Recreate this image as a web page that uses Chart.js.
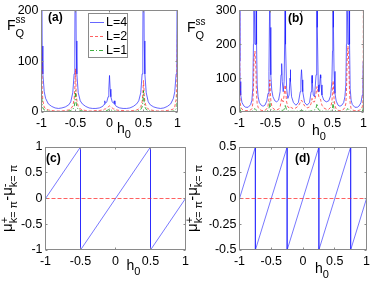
<!DOCTYPE html>
<html>
<head>
<meta charset="utf-8">
<script src="https://cdn.jsdelivr.net/npm/chart.js@4.4.1/dist/chart.umd.min.js"></script>
<style>
  body { margin: 0; background: #fff; }
  #wrap { position: relative; width: 374px; height: 282px; overflow: hidden; }
  #wrap canvas { position: absolute; left: 0; top: 0; }
</style>
</head>
<body>
<div id="wrap">
  <canvas id="pa" width="374" height="282"></canvas>
  <canvas id="pb" width="374" height="282"></canvas>
  <canvas id="pc" width="374" height="282"></canvas>
  <canvas id="pd" width="374" height="282"></canvas>
</div>
<script>
// panel (a): F_Q^ss against h0
const aH = [-1, -0.99, -0.98, -0.96, -0.94, -0.9, -0.85, -0.8, -0.75, -0.7,
  -0.65, -0.6, -0.57, -0.54, -0.52, -0.51, -0.5, -0.49, -0.48, -0.46,
  -0.43, -0.4, -0.35, -0.3, -0.25, -0.2, -0.15, -0.1, -0.08, -0.07,
  -0.06, -0.04, -0.02, -0.01, 0,
  0.01, 0.02, 0.04, 0.06, 0.07, 0.08, 0.1, 0.15, 0.2, 0.25,
  0.3, 0.35, 0.4, 0.43, 0.46, 0.48, 0.49, 0.5, 0.51, 0.52,
  0.54, 0.57, 0.6, 0.65, 0.7, 0.75, 0.8, 0.85, 0.9, 0.94,
  0.96, 0.98, 0.99, 1];
const aL4 = [400, 130, 75, 40, 27, 16, 11, 8, 7, 8,
  10, 14, 20, 38, 75, 140, 400, 140, 75, 38,
  22, 16, 11, 8, 7, 7, 8, 11, 15, 22,
  17, 20, 30, 45, 72,
  45, 30, 20, 17, 22, 15, 11, 8, 7, 7,
  8, 11, 16, 22, 38, 75, 140, 400, 140, 75,
  38, 20, 14, 10, 8, 7, 8, 11, 16, 27,
  40, 75, 130, 400];
const aL2 = [140, 45, 22, 10, 6, 4, 3, 2, 2, 2,
  3, 4, 6, 12, 25, 45, 85, 40, 22, 11,
  6, 4, 3, 2, 2, 3, 3, 4, 5, 6,
  6, 8, 10, 11, 12,
  11, 10, 8, 6, 6, 5, 4, 3, 3, 2,
  2, 3, 4, 6, 10, 20, 35, 62, 35, 20,
  10, 6, 4, 3, 2, 2, 2, 3, 4, 6,
  10, 25, 50, 160];
const aL1 = [45, 15, 8, 4, 3, 2, 1, 1, 1, 1,
  1, 2, 3, 5, 10, 18, 42, 18, 10, 5,
  3, 2, 1, 1, 1, 1, 1, 1, 2, 2,
  2, 3, 4, 5, 6,
  5, 4, 3, 2, 2, 2, 1, 1, 1, 1,
  1, 1, 2, 3, 5, 10, 18, 42, 18, 10,
  5, 3, 2, 1, 1, 1, 1, 1, 1, 2,
  3, 6, 12, 45];

// panel (b)
const bH = [-1, -0.995, -0.99, -0.98, -0.96, -0.93, -0.9, -0.86, -0.82, -0.8,
  -0.785, -0.775, -0.77, -0.765, -0.75, -0.735, -0.73, -0.725, -0.715, -0.7,
  -0.68, -0.65, -0.62, -0.59, -0.56, -0.54, -0.525, -0.515, -0.51, -0.505,
  -0.495, -0.48, -0.46, -0.43, -0.4, -0.37, -0.345, -0.33, -0.32, -0.31,
  -0.295, -0.28, -0.265, -0.26, -0.255, -0.24, -0.22, -0.2, -0.185, -0.18,
  -0.175, -0.16, -0.13, -0.09, -0.05, -0.02, -0.01, 0, 0.01, 0.02,
  0.05, 0.09, 0.13, 0.155, 0.165, 0.17, 0.175, 0.19, 0.21, 0.235,
  0.245, 0.25, 0.255, 0.27, 0.28, 0.295, 0.305, 0.31, 0.315, 0.33,
  0.36, 0.4, 0.44, 0.47, 0.49, 0.5, 0.505, 0.51, 0.515, 0.525,
  0.54, 0.56, 0.59, 0.62, 0.65, 0.68, 0.7, 0.715, 0.725, 0.73,
  0.735, 0.75, 0.765, 0.77, 0.775, 0.785, 0.8, 0.82, 0.86, 0.9,
  0.93, 0.96, 0.98, 0.99, 0.995, 1];
const bL4 = [500, 150, 90, 50, 28, 18, 14, 14, 22, 35,
  70, 200, 500, 350, 200, 350, 500, 200, 80, 45,
  28, 20, 17, 20, 32, 55, 120, 300, 500, 250,
  110, 65, 45, 33, 30, 35, 60, 110, 143, 90,
  60, 90, 300, 500, 200, 70, 40, 50, 100, 125,
  90, 45, 28, 20, 28, 60, 95, 125, 95, 60,
  28, 20, 28, 60, 95, 108, 85, 50, 45, 110,
  350, 500, 250, 80, 60, 85, 110, 100, 80, 50,
  35, 30, 33, 48, 90, 180, 350, 500, 250, 120,
  55, 32, 20, 17, 20, 28, 45, 80, 200, 500,
  350, 200, 350, 500, 200, 70, 35, 22, 14, 14,
  18, 28, 50, 90, 150, 500];
const bL2 = [500, 60, 30, 15, 8, 5, 4, 4, 6, 10,
  25, 70, 120, 160, 180, 120, 80, 50, 25, 14,
  8, 5, 4, 5, 9, 18, 40, 80, 95, 70,
  35, 18, 11, 7, 6, 8, 15, 30, 40, 35,
  30, 50, 80, 75, 60, 30, 15, 12, 15, 16,
  15, 12, 10, 12, 18, 28, 32, 35, 32, 28,
  18, 12, 15, 25, 35, 40, 38, 30, 30, 55,
  70, 75, 70, 55, 45, 40, 38, 35, 30, 20,
  12, 8, 8, 14, 30, 55, 80, 92, 75, 40,
  18, 9, 5, 4, 5, 8, 14, 25, 60, 100,
  150, 195, 130, 90, 60, 25, 10, 6, 4, 4,
  5, 8, 15, 30, 60, 500];
const bL1 = [40, 12, 6, 3, 2, 1, 1, 1, 1, 2,
  3, 5, 7, 8, 10, 7, 5, 4, 3, 2,
  1, 1, 1, 2, 3, 5, 10, 20, 32, 18,
  8, 5, 3, 2, 2, 2, 3, 4, 5, 5,
  5, 8, 18, 22, 15, 6, 3, 3, 3, 3,
  3, 2, 2, 2, 3, 4, 5, 6, 5, 4,
  3, 2, 2, 3, 4, 5, 5, 5, 6, 12,
  20, 25, 18, 8, 6, 5, 5, 5, 4, 3,
  2, 2, 2, 3, 7, 12, 22, 30, 18, 9,
  5, 3, 2, 1, 1, 1, 2, 3, 5, 7,
  8, 10, 7, 5, 4, 3, 2, 1, 1, 1,
  1, 2, 3, 6, 12, 40];

// panels (c) and (d): mu+ - mu- at k = pi
const cH = [-1, -0.5, -0.5, 0.5, 0.5, 1];
const cMu = [0, 1, -1, 1, -1, 0];
const dH = [-1, -0.75, -0.75, -0.25, -0.25, 0.25, 0.25, 0.75, 0.75, 1];
const dMu = [0, 0.5, -0.5, 0.5, -0.5, 0.5, -0.5, 0.5, -0.5, 0];
const zeroH = [-1, 1];
const zeroMu = [0, 0];

// ticks
const hTicks = [-1, -0.5, 0, 0.5, 1];
const hTickLabels = ['-1', '-0.5', '0', '0.5', '1'];
const aTicks = [0, 100, 200];
const aTickLabels = ['0', '100', '200'];
const bTicks = [0, 100, 200, 300];
const bTickLabels = ['0', '100', '200', '300'];
const cTicks = [-1, -0.5, 0, 0.5, 1];
const cTickLabels = ['-1', '-0.5', '0', '0.5', '1'];
const dTicks = [-0.5, -0.25, 0, 0.25, 0.5];
const dTickLabels = ['-0.5', '-0.25', '0', '0.25', '0.5'];
const legendLabels = ['L=4', 'L=2', 'L=1'];

const FONT = '"Liberation Sans", Arial, Helvetica, sans-serif';
const W = 374, H = 282;
const BLUE = 'rgba(30,30,255,0.68)', RED = 'rgba(255,30,30,0.7)', GREEN = 'rgba(0,150,0,0.75)';
const BLUE_MU = 'rgba(30,30,255,0.6)';
const DASH = [3, 2], DASHDOT = [4, 2, 1, 2];
Chart.defaults.font.family = FONT;
Chart.defaults.font.size = 12.5;
Chart.defaults.color = '#000';

function series(xs, ys, color, dash, order) {
    return {
        data: xs.map((x, i) => ({ x: x, y: ys[i] })),
        showLine: true, borderColor: color, borderWidth: 1, borderDash: dash,
        borderJoinStyle: 'bevel', pointRadius: 0, fill: false, clip: 0, order: order
    };
}

// text with sub/superscripts, k = stack on the previous piece
function rich(ctx, x, y, parts, rot) {
    ctx.save();
    ctx.translate(x, y);
    if (rot) ctx.rotate(-Math.PI / 2);
    ctx.fillStyle = '#000';
    ctx.textBaseline = 'alphabetic';
    ctx.textAlign = 'left';
    let cx = 0, ps = 0, pe = 0;
    parts.forEach(p => {
        ctx.font = (p.b ? 'bold ' : '') + p.s + 'px ' + FONT;
        const w = ctx.measureText(p.t).width;
        let sx;
        if (p.k) { sx = ps; pe = Math.max(pe, sx + w); }
        else { sx = cx; ps = sx; pe = sx + w; }
        ctx.fillText(p.t, sx, p.d || 0);
        cx = pe;
    });
    ctx.restore();
}

function decor(draw) {
    return {
        id: 'decor',
        afterDraw(chart) {
            const ctx = chart.ctx, a = chart.chartArea;
            const x0 = Math.floor(a.left) + 0.5, y0 = Math.floor(a.top) + 0.5;
            const x1 = Math.ceil(a.right) - 0.5, y1 = Math.ceil(a.bottom) - 0.5;
            ctx.save();
            ctx.strokeStyle = '#8a8a8a';
            ctx.lineWidth = 1;
            ctx.setLineDash([]);
            ctx.strokeRect(x0, y0, x1 - x0, y1 - y0);
            ctx.beginPath();
            chart.scales.x.ticks.forEach(t => {
                const px = Math.floor(chart.scales.x.getPixelForValue(t.value)) + 0.5;
                ctx.moveTo(px, y1); ctx.lineTo(px, y1 - 2);
                ctx.moveTo(px, y0); ctx.lineTo(px, y0 + 2);
            });
            chart.scales.y.ticks.forEach(t => {
                const py = Math.floor(chart.scales.y.getPixelForValue(t.value)) + 0.5;
                ctx.moveTo(x0, py); ctx.lineTo(x0 + 2, py);
                ctx.moveTo(x1, py); ctx.lineTo(x1 - 2, py);
            });
            ctx.stroke();
            ctx.restore();
            draw(ctx);
        }
    };
}

function panel(id, area, yMin, yMax, yTicks, yLabels, datasets, draw) {
    const yW = 30, xH = 22;
    return new Chart(document.getElementById(id), {
        type: 'scatter',
        data: { datasets: datasets },
        options: {
            responsive: false, animation: false, devicePixelRatio: 1, events: [],
            layout: { padding: { left: area.l - yW, top: area.t, right: W - area.r, bottom: H - area.b - xH } },
            plugins: { legend: { display: false }, tooltip: { enabled: false } },
            scales: {
                x: {
                    type: 'linear', min: -1, max: 1,
                    afterBuildTicks: s => { s.ticks = hTicks.map(v => ({ value: v })); },
                    afterFit: s => { s.height = xH; },
                    ticks: { padding: 4, autoSkip: false, maxRotation: 0, callback: (v, i) => hTickLabels[i] },
                    grid: { display: false, drawTicks: false },
                    border: { display: false }
                },
                y: {
                    type: 'linear', min: yMin, max: yMax,
                    afterBuildTicks: s => { s.ticks = yTicks.map(v => ({ value: v })); },
                    afterFit: s => { s.width = yW; },
                    ticks: { padding: 3, autoSkip: false, callback: (v, i) => yLabels[i] },
                    grid: { display: false, drawTicks: false },
                    border: { display: false }
                }
            }
        },
        plugins: [decor(draw)]
    });
}

function legendA(ctx) {
    ctx.save();
    ctx.fillStyle = '#fff';
    ctx.fillRect(88, 13, 40, 44);
    ctx.strokeStyle = '#8a8a8a';
    ctx.lineWidth = 1;
    ctx.strokeRect(88.5, 13.5, 39, 44);
    const rows = [22.5, 36.5, 50.5];
    const styles = [[BLUE, []], [RED, DASH], [GREEN, DASHDOT]];
    rows.forEach((ry, i) => {
        ctx.strokeStyle = styles[i][0];
        ctx.setLineDash(styles[i][1]);
        ctx.beginPath();
        ctx.moveTo(90, ry); ctx.lineTo(104, ry);
        ctx.stroke();
        ctx.fillStyle = '#000';
        ctx.font = '12.5px ' + FONT;
        ctx.textBaseline = 'middle';
        ctx.fillText(legendLabels[i], 106, ry);
    });
    ctx.restore();
}

const muTitle = [
    { t: '\u03bc', s: 15 }, { t: '+', s: 11, d: -4.5 }, { t: 'k= \u03c0', s: 11, d: 5, k: 1 },
    { t: '-\u03bc', s: 15 }, { t: '-', s: 11, d: -4.5 }, { t: 'k= \u03c0', s: 11, d: 5, k: 1 }
];
const fTitle = [{ t: 'F', s: 14 }, { t: 'ss', s: 10, d: -7 }, { t: 'Q', s: 11, d: 7, k: 1 }];
const hTitle = [{ t: 'h', s: 14 }, { t: '0', s: 11, d: 5 }];

panel('pa', { l: 41.5, t: 9, r: 177.5, b: 112 }, 0, 200, aTicks, aTickLabels, [
    series(aH, aL4, BLUE, [], 3),
    series(aH, aL2, RED, DASH, 2),
    series(aH, aL1, GREEN, DASHDOT, 1)
], ctx => {
    legendA(ctx);
    rich(ctx, 48, 21, [{ t: '(a)', s: 12, b: 1 }]);
    rich(ctx, 7, 30, fTitle);
    rich(ctx, 117, 133, hTitle);
});

panel('pb', { l: 239.5, t: 9, r: 363.5, b: 112 }, 0, 300, bTicks, bTickLabels, [
    series(bH, bL4, BLUE, [], 3),
    series(bH, bL2, RED, DASH, 2),
    series(bH, bL1, GREEN, DASHDOT, 1)
], ctx => {
    rich(ctx, 288, 21.5, [{ t: '(b)', s: 12, b: 1 }]);
    rich(ctx, 187, 32, fTitle);
    rich(ctx, 312, 135, hTitle);
});

panel('pc', { l: 45.5, t: 147, r: 185.5, b: 250 }, -1, 1, cTicks, cTickLabels, [
    series(cH, cMu, BLUE_MU, [], 2),
    series(zeroH, zeroMu, RED, [4, 2], 1)
], ctx => {
    rich(ctx, 46, 161.5, [{ t: '(c)', s: 12, b: 1 }]);
    rich(ctx, 12, 232, muTitle, true);
    rich(ctx, 126.5, 270, hTitle);
});

panel('pd', { l: 239.5, t: 147, r: 367.5, b: 250 }, -0.5, 0.5, dTicks, dTickLabels, [
    series(dH, dMu, BLUE_MU, [], 2),
    series(zeroH, zeroMu, RED, [4, 2], 1)
], ctx => {
    rich(ctx, 295, 161.5, [{ t: '(d)', s: 12, b: 1 }]);
    rich(ctx, 197, 232, muTitle, true);
    rich(ctx, 315, 273, hTitle);
});
</script>
</body>
</html>
